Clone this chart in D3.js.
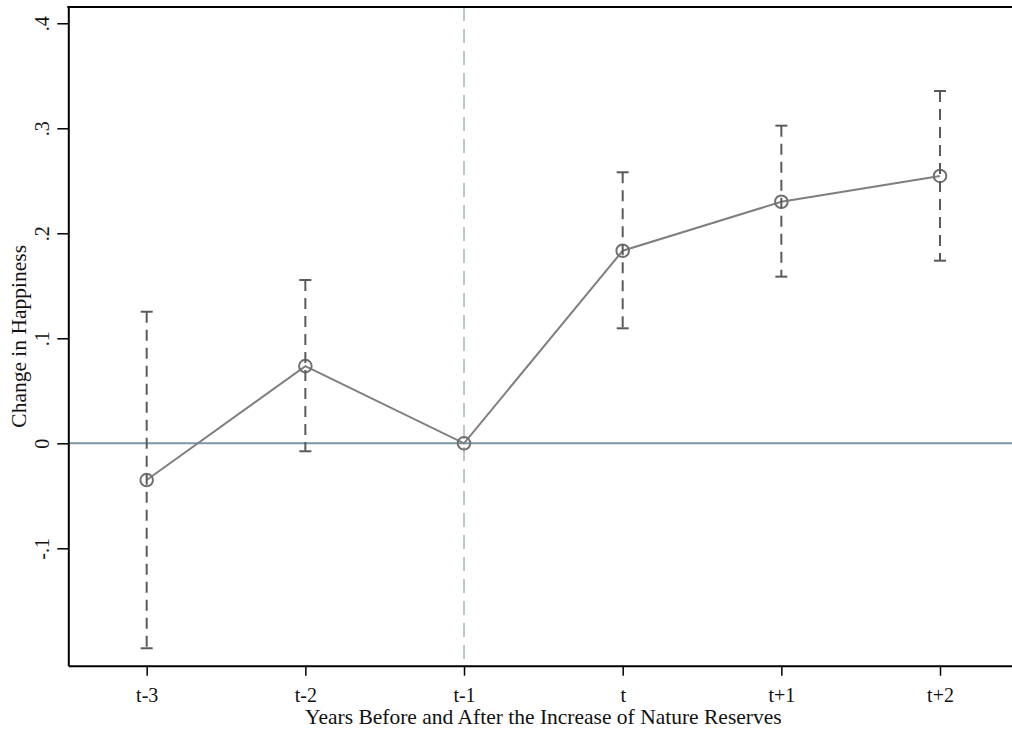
<!DOCTYPE html>
<html>
<head>
<meta charset="utf-8">
<script src="https://cdn.jsdelivr.net/npm/d3@7"></script>
<style>
  html, body { margin: 0; padding: 0; background: #fff; }
  svg { display: block; }
  text { font-family: "Liberation Serif", "Times New Roman", serif; fill: #111; }
</style>
</head>
<body>
<svg id="chart" width="1012" height="736"></svg>
<script>
// Event-study estimates with 95% confidence intervals
const periods = ["t-3", "t-2", "t-1", "t", "t+1", "t+2"];
const estimates = [-0.035, 0.0735, 0, 0.1834, 0.2300, 0.2546];
const ciLower = [-0.1952, -0.0076, 0, 0.1095, 0.1587, 0.1739];
const ciUpper = [0.1253, 0.1555, 0, 0.2581, 0.3025, 0.3355];
const yTicks = [-0.1, 0, 0.1, 0.2, 0.3, 0.4];
const yTickLabels = ["-.1", "0", ".1", ".2", ".3", ".4"];

(function () {
  const svg = d3.select("#chart");
  const plotLeft = 68.3, plotTop = 7, plotBottom = 665.7, plotRight = 1018.4;

  const x = d3.scaleLinear().domain([-0.494, 5.494]).range([plotLeft, plotRight]);
  const y = d3.scaleLinear().domain([-0.2118, 0.4155]).range([plotBottom, plotTop]);

  // Zero reference line
  svg.append("line")
    .attr("x1", plotLeft).attr("x2", plotRight)
    .attr("y1", y(0)).attr("y2", y(0))
    .attr("stroke", "#7b96a6").attr("stroke-width", 2);

  // Vertical dashed line at the reference period
  svg.append("line")
    .attr("x1", x(2)).attr("x2", x(2))
    .attr("y1", plotTop).attr("y2", plotBottom)
    .attr("stroke", "#8aa8a4").attr("stroke-width", 1.2)
    .attr("stroke-dasharray", "14,8");

  // Point estimate line
  const line = d3.line().x((d, i) => x(i)).y(d => y(d));
  svg.append("path")
    .datum(estimates)
    .attr("d", line)
    .attr("fill", "none")
    .attr("stroke", "#7f7f7f").attr("stroke-width", 2);

  // Markers
  svg.append("g").selectAll("circle")
    .data(estimates)
    .join("circle")
    .attr("cx", (d, i) => x(i)).attr("cy", d => y(d))
    .attr("r", 6.3)
    .attr("fill", "none")
    .attr("stroke", "#707070").attr("stroke-width", 2);

  // Confidence interval bars
  const bars = svg.append("g").selectAll("g")
    .data(periods.map((p, i) => ({ i, lo: ciLower[i], hi: ciUpper[i] })).filter(d => d.hi !== d.lo))
    .join("g")
    .attr("stroke", "#5a5a5a").attr("stroke-width", 2);

  bars.append("line")
    .attr("x1", d => x(d.i)).attr("x2", d => x(d.i))
    .attr("y1", d => y(d.hi)).attr("y2", d => y(d.lo))
    .attr("stroke-dasharray", "11,7");
  bars.append("line")
    .attr("x1", d => x(d.i) - 6).attr("x2", d => x(d.i) + 6)
    .attr("y1", d => y(d.hi)).attr("y2", d => y(d.hi));
  bars.append("line")
    .attr("x1", d => x(d.i) - 6).attr("x2", d => x(d.i) + 6)
    .attr("y1", d => y(d.lo)).attr("y2", d => y(d.lo));

  // Axes
  const xAxis = d3.axisBottom(x)
    .tickValues(d3.range(periods.length))
    .tickFormat(i => periods[i])
    .tickSize(10).tickSizeOuter(0).tickPadding(12);
  const gx = svg.append("g")
    .attr("transform", `translate(0,${plotBottom})`)
    .call(xAxis);
  gx.select(".domain").attr("stroke", "#000").attr("stroke-width", 2);
  gx.selectAll(".tick line").attr("stroke", "#000").attr("stroke-width", 1.5);
  gx.selectAll(".tick text").style("font-size", "20px").attr("fill", "#111");

  const yAxis = d3.axisLeft(y)
    .tickValues(yTicks)
    .tickFormat((d, i) => yTickLabels[i])
    .tickSize(11).tickSizeOuter(0);
  const gy = svg.append("g")
    .attr("transform", `translate(${plotLeft},0)`)
    .call(yAxis);
  gy.select(".domain").attr("stroke", "#000").attr("stroke-width", 2);
  gy.selectAll(".tick line").attr("stroke", "#000").attr("stroke-width", 1.5);
  gy.selectAll(".tick text")
    .style("font-size", "20px").attr("fill", "#111")
    .attr("x", null)
    .attr("text-anchor", "middle")
    .attr("transform", "translate(-26,0) rotate(-90)")
    .attr("dy", "0.35em");

  // Top frame line
  svg.append("line")
    .attr("x1", plotLeft - 1).attr("x2", plotRight)
    .attr("y1", plotTop).attr("y2", plotTop)
    .attr("stroke", "#000").attr("stroke-width", 2);

  // Axis titles
  svg.append("text")
    .attr("x", (plotLeft + plotRight) / 2).attr("y", 724)
    .attr("text-anchor", "middle")
    .style("font-size", "21.5px")
    .text("Years Before and After the Increase of Nature Reserves");

  svg.append("text")
    .attr("transform", `translate(26,${(plotTop + plotBottom) / 2}) rotate(-90)`)
    .attr("text-anchor", "middle")
    .style("font-size", "21.5px")
    .text("Change in Happiness");
})();
</script>
</body>
</html>
